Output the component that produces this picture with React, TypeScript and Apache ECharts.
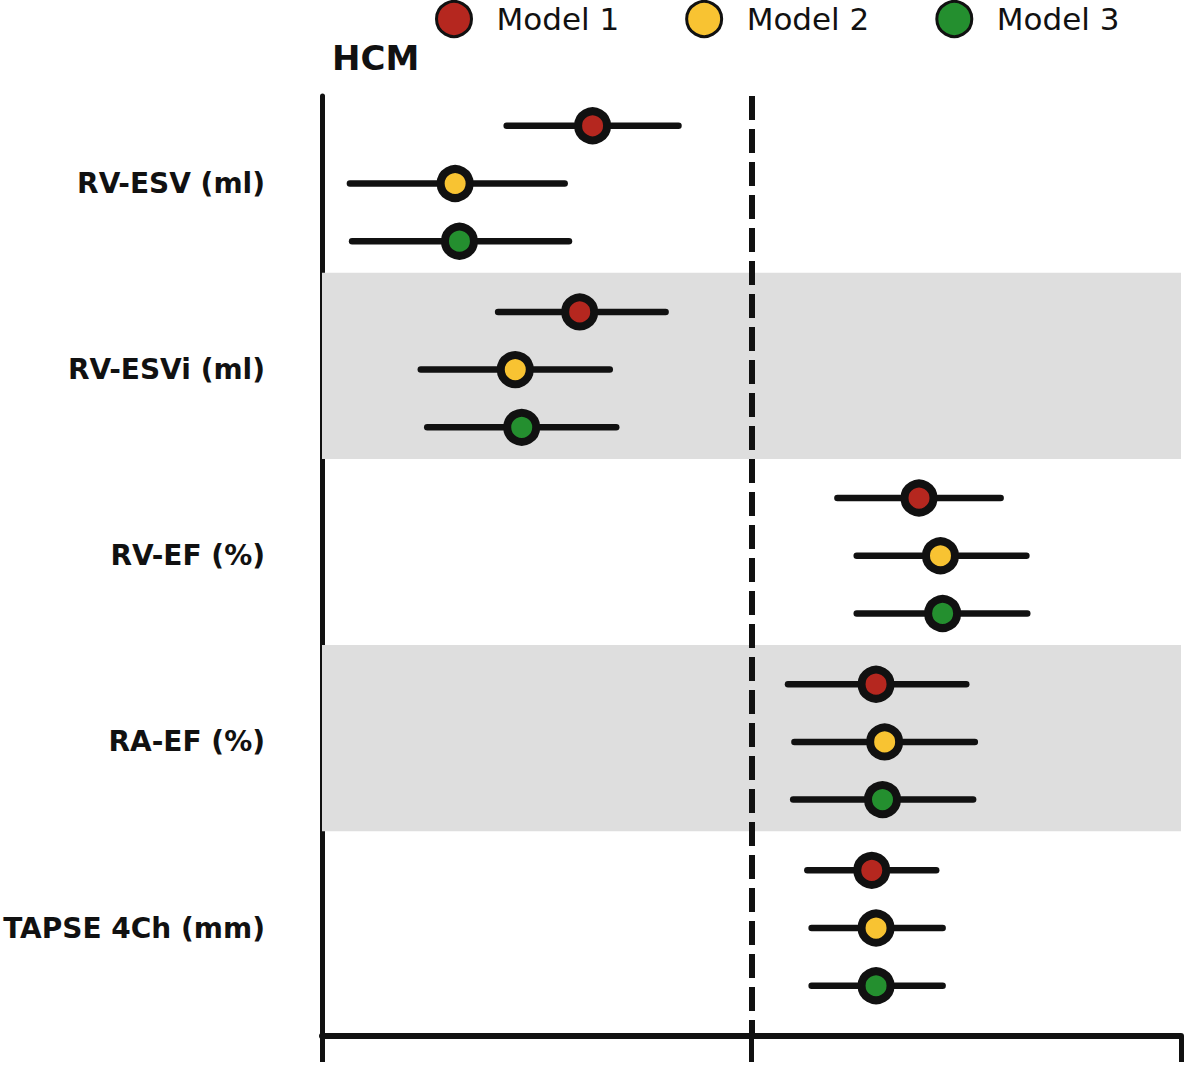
import {useEffect, useRef} from 'react';
import * as echarts from 'echarts';

const categories = ['RV-ESV (ml)', 'RV-ESVi (ml)', 'RV-EF (%)', 'RA-EF (%)', 'TAPSE 4Ch (mm)'];
const models = ['Model 1', 'Model 2', 'Model 3'];
const modelColors = ['#b5271f', '#f8c332', '#248f2f'];
const rowOffsets = [-0.31, 0, 0.31];

// estimate, lower, upper per category
const model1Est = [-0.37, -0.4, 0.39, 0.29, 0.28];
const model1Lo = [-0.57, -0.59, 0.2, 0.085, 0.13];
const model1Hi = [-0.17, -0.2, 0.58, 0.5, 0.43];

const model2Est = [-0.69, -0.55, 0.44, 0.31, 0.29];
const model2Lo = [-0.935, -0.77, 0.245, 0.1, 0.14];
const model2Hi = [-0.435, -0.33, 0.64, 0.52, 0.445];

const model3Est = [-0.68, -0.535, 0.445, 0.305, 0.29];
const model3Lo = [-0.93, -0.755, 0.245, 0.097, 0.14];
const model3Hi = [-0.425, -0.315, 0.642, 0.516, 0.445];

const estimates = [model1Est, model2Est, model3Est];
const lowers = [model1Lo, model2Lo, model3Lo];
const uppers = [model1Hi, model2Hi, model3Hi];

const shadedRows = [1, 3];

const FONT = 'DejaVu Sans';
const INK = '#111111';

const App = () => {
    const chartRef = useRef<HTMLDivElement>(null);

    useEffect(() => {
        document.body.style.margin = '0';
        if (!chartRef.current) return;
        const chart = echarts.init(chartRef.current, undefined, {renderer: 'svg'});

        const ciSeries = models.map((name, m) => ({
            type: 'custom',
            name: name + ' CI',
            z: 3,
            silent: true,
            encode: {x: [0, 1], y: 2},
            data: categories.map((_, i) => [lowers[m][i], uppers[m][i], i + rowOffsets[m]]),
            renderItem: (params: any, api: any) => {
                const a = api.coord([api.value(0), api.value(2)]);
                const b = api.coord([api.value(1), api.value(2)]);
                return {
                    type: 'line',
                    shape: {x1: a[0], y1: a[1], x2: b[0], y2: b[1]},
                    style: {stroke: INK, lineWidth: 6.5, lineCap: 'round'},
                };
            },
        }));

        const pointSeries = models.map((name, m) => ({
            type: 'scatter',
            name,
            z: 4,
            symbol: 'circle',
            symbolSize: 29,
            itemStyle: {color: modelColors[m], borderColor: INK, borderWidth: 8, opacity: 1},
            data: categories.map((_, i) => [estimates[m][i], i + rowOffsets[m]]),
        }));

        const option: any = {
            animation: false,
            title: {
                text: 'HCM',
                left: 327,
                top: 36,
                textStyle: {fontFamily: FONT, fontWeight: 'bold', fontSize: 34, color: INK},
            },
            legend: {
                data: models,
                left: 435,
                top: 0,
                padding: 0,
                itemWidth: 35,
                itemHeight: 35,
                itemGap: 66,
                icon: 'circle',
                itemStyle: {borderColor: INK, borderWidth: 3},
                textStyle: {fontFamily: FONT, fontSize: 31, color: INK, padding: [0, 0, 0, 20]},
            },
            grid: {left: 322, right: 6, top: 96, bottom: 42},
            xAxis: {
                type: 'value',
                min: -1,
                max: 1,
                interval: 1,
                axisLine: {show: true, onZero: false, lineStyle: {color: INK, width: 6}},
                axisTick: {show: true, length: 26, lineStyle: {color: INK, width: 5}},
                axisLabel: {show: false},
                splitLine: {show: false},
            },
            yAxis: {
                type: 'value',
                inverse: true,
                min: -0.47,
                max: 4.58,
                axisLine: {show: true, onZero: false, lineStyle: {color: INK, width: 5}},
                axisTick: {show: false},
                splitLine: {show: false},
                axisLabel: {
                    show: true,
                    customValues: categories.map((_, i) => i),
                    formatter: (v: number) => categories[Math.round(v)],
                    margin: 57,
                    fontFamily: FONT,
                    fontWeight: 'bold',
                    fontSize: 28,
                    color: INK,
                },
            },
            series: [
                {
                    type: 'line',
                    name: 'bands',
                    z: 1,
                    silent: true,
                    data: [],
                    markArea: {
                        silent: true,
                        itemStyle: {color: '#dedede'},
                        data: shadedRows.map((r) => [
                            {xAxis: -1, yAxis: r - 0.52},
                            {xAxis: 1, yAxis: r + 0.48},
                        ]),
                    },
                },
                {
                    type: 'line',
                    name: 'ref',
                    z: 2,
                    silent: true,
                    data: [],
                    markLine: {
                        silent: true,
                        symbol: 'none',
                        label: {show: false},
                        lineStyle: {color: INK, width: 6, type: [24, 9]},
                        data: [{xAxis: 0}],
                    },
                },
                ...ciSeries,
                ...pointSeries,
            ],
        };
        chart.setOption(option);

        return () => {
            chart.dispose();
        };
    }, []);

    return <div ref={chartRef} style={{width: 1187, height: 1078}} />;
};

export default App;
